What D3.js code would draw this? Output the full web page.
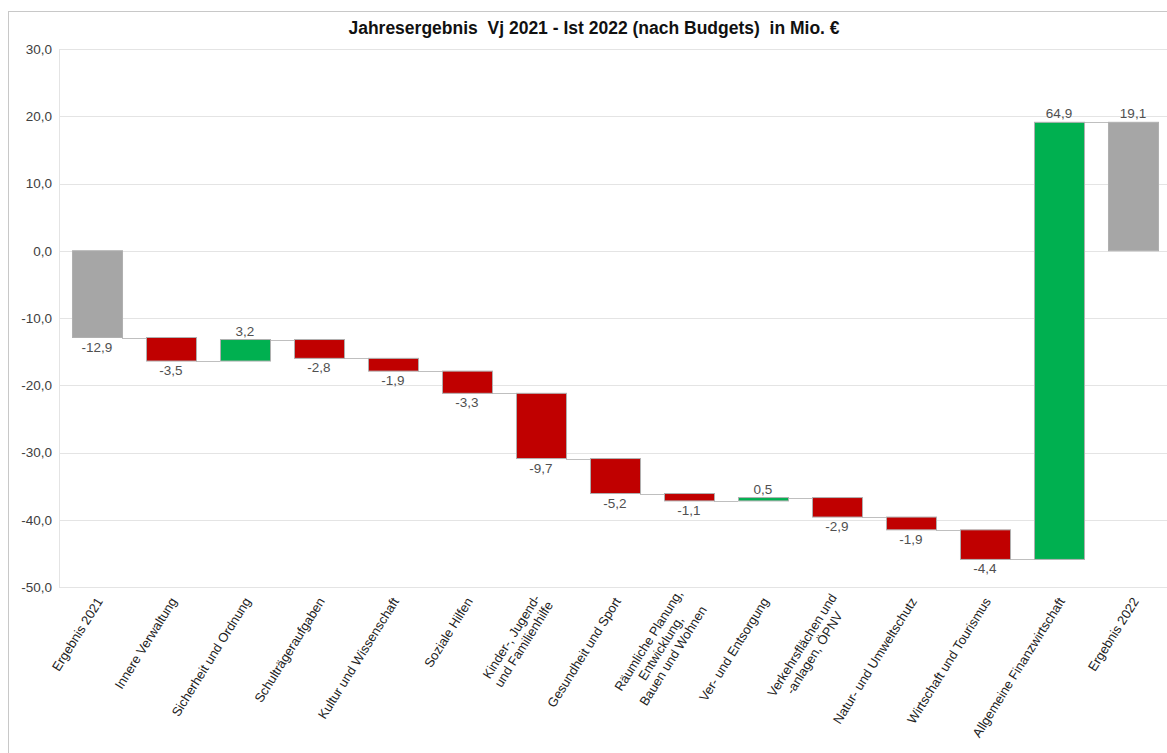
<!DOCTYPE html>
<html>
<meta charset="utf-8">
<head>
<style>
body { margin: 0; background: #fff; font-family: "Liberation Sans", Arial, sans-serif; }
.grid line { stroke: #e4e4e4; stroke-width: 1; shape-rendering: crispEdges; }
.axis text { fill: #404040; font-size: 13.5px; }
</style>
<script src="https://d3js.org/d3.v7.min.js"></script>
</head>
<body>
<script>
// categories (use \n for line breaks)
var categories = [
    "Ergebnis 2021",
    "Innere Verwaltung",
    "Sicherheit und Ordnung",
    "Schulträgeraufgaben",
    "Kultur und Wissenschaft",
    "Soziale Hilfen",
    "Kinder-, Jugend-\nund Familienhilfe",
    "Gesundheit und Sport",
    "Räumliche Planung,\nEntwicklung,\nBauen und Wohnen",
    "Ver- und Entsorgung",
    "Verkehrsflächen und\n-anlagen, ÖPNV",
    "Natur- und Umweltschutz",
    "Wirtschaft und Tourismus",
    "Allgemeine Finanzwirtschaft",
    "Ergebnis 2022"
];
// value per category; totals are the year results, the rest are changes
var values = [-12.9, -3.5, 3.2, -2.8, -1.9, -3.3, -9.7, -5.2, -1.1, 0.5, -2.9, -1.9, -4.4, 64.9, 19.1];
var isTotal = [true, false, false, false, false, false, false, false, false, false, false, false, false, false, true];
var yTicks = [30, 20, 10, 0, -10, -20, -30, -40, -50];

var W = 1167, H = 753;
var mLeft = 59, mRight = 1170, mTop = 49, mBottom = 587;

var svg = d3.select("body").append("svg")
    .attr("width", W).attr("height", H);

// outer frame
svg.append("rect")
    .attr("x", 8.5).attr("y", 11.5)
    .attr("width", 1200).attr("height", 800)
    .attr("fill", "none").attr("stroke", "#c8c8c8");

svg.append("text")
    .attr("x", 594).attr("y", 34)
    .attr("text-anchor", "middle")
    .style("font-weight", "bold").style("font-size", "17.5px")
    .style("white-space", "pre")
    .attr("fill", "#111")
    .text("Jahresergebnis  Vj 2021 - Ist 2022 (nach Budgets)  in Mio. €");

var y = d3.scaleLinear().domain([-50, 30]).range([mBottom, mTop]);
var x = d3.scaleBand().domain(categories).range([mLeft + 1, mRight]).paddingInner(0.324).paddingOuter(0.162);

var fmt = function(v) { return d3.format(".1f")(v).replace("−", "-").replace(".", ","); };

// grid
svg.append("g").attr("class", "grid")
    .selectAll("line").data(yTicks).enter().append("line")
    .attr("x1", mLeft).attr("x2", mRight)
    .attr("y1", function(d) { return Math.round(y(d)) + 0.5; })
    .attr("y2", function(d) { return Math.round(y(d)) + 0.5; });
svg.append("line")
    .attr("x1", mLeft + 0.5).attr("x2", mLeft + 0.5)
    .attr("y1", mTop).attr("y2", mBottom + 1)
    .attr("stroke", "#e4e4e4");

var yAxis = d3.axisLeft(y).tickValues(yTicks).tickSize(0).tickPadding(7)
    .tickFormat(fmt);
svg.append("g").attr("class", "axis")
    .attr("transform", "translate(" + mLeft + ",0)")
    .call(yAxis)
    .call(function(g) { g.select(".domain").remove(); });

// waterfall bars
var bars = [];
var run = 0;
values.forEach(function(v, i) {
    var b = { cat: categories[i], v: v };
    if (isTotal[i]) {
        b.y0 = 0; b.y1 = v; b.color = "#a6a6a6";
        run = v;
    } else {
        b.y0 = run; b.y1 = run + v; b.color = v < 0 ? "#c00000" : "#00b050";
        run = run + v;
    }
    if (i == values.length - 2) { b.y1 = values[values.length - 1]; }
    b.end = isTotal[i] ? v : b.y1;
    bars.push(b);
});

// connectors
for (var i = 0; i < bars.length - 1; i++) {
    var lvl = bars[i].end;
    svg.append("line")
        .attr("x1", x(bars[i].cat) + x.bandwidth())
        .attr("x2", x(bars[i + 1].cat))
        .attr("y1", Math.round(y(lvl)) + 0.5).attr("y2", Math.round(y(lvl)) + 0.5)
        .attr("stroke", "#bfbfbf");
}

svg.selectAll(".bar").data(bars).enter().append("rect")
    .attr("class", "bar")
    .attr("x", function(d) { return x(d.cat) + 0.5; })
    .attr("width", x.bandwidth())
    .attr("y", function(d) { return y(Math.max(d.y0, d.y1)); })
    .attr("height", function(d) { return Math.max(1.5, Math.abs(y(d.y0) - y(d.y1))); })
    .attr("fill", function(d) { return d.color; })
    .attr("stroke", "#b0b0b0").attr("stroke-width", 1);

// value labels
svg.selectAll(".lbl").data(bars).enter().append("text")
    .attr("class", "lbl")
    .attr("x", function(d) { return x(d.cat) + x.bandwidth() / 2; })
    .attr("y", function(d) {
        return d.v < 0 ? y(Math.min(d.y0, d.y1)) + 14 : y(Math.max(d.y0, d.y1)) - 4;
    })
    .attr("text-anchor", "middle")
    .style("font-size", "13.5px").attr("fill", "#505050")
    .text(function(d) { return fmt(d.v); });

// category labels
var ang = -58;
bars.forEach(function(d) {
    var lines = d.cat.split("\n");
    var g = svg.append("g")
        .attr("transform", "translate(" + (x(d.cat) + x.bandwidth() / 2 + 3) + "," + (mBottom + 12) + ") rotate(" + ang + ")");
    var t = g.append("text").style("font-size", "13px").attr("fill", "#222");
    var spans = lines.map(function(l, k) {
        return t.append("tspan").attr("y", (k - (lines.length - 1) / 2) * 14.5 + 4).text(l);
    });
    var maxW = d3.max(spans, function(s) { return s.node().getComputedTextLength(); });
    spans.forEach(function(s) {
        s.attr("x", -maxW / 2).attr("text-anchor", "middle");
    });
});
</script>
</body>
</html>
